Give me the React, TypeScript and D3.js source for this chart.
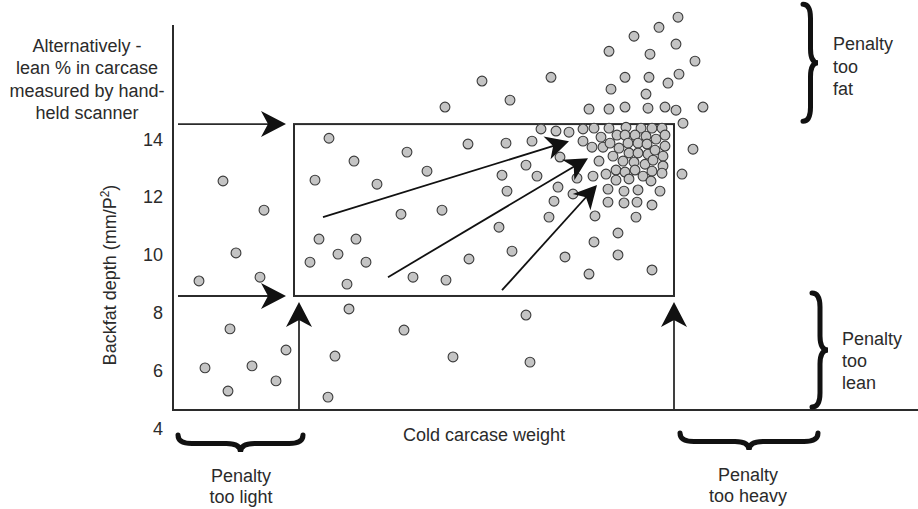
import React from 'react';
import * as d3 from 'd3';

const W = 918;
const H = 509;

// Cold carcase weight (arbitrary kg-like units) and backfat depth for each pig
const weights = [
  55.0, 59.1, 56.3, 52.6, 58.7, 55.7, 53.2, 57.9, 61.3, 60.3, 55.5,
  67.6, 85.3, 73.1, 66.2, 78.0, 85.7, 65.5,
  65.6, 68.1, 64.2, 70.4, 73.4, 75.4, 79.5, 83.3, 72.8, 76.9, 64.6, 68.3, 66.5, 63.7, 69.3, 67.4,
  74.0, 77.3, 79.6, 83.9, 82.6, 82.9, 83.4, 85.3, 86.4, 85.9, 86.8, 88.3, 89.6, 91.0, 92.1, 91.0,
  91.9, 88.7, 90.4, 92.0, 92.6, 88.5, 88.1, 90.0, 87.6, 92.2, 89.2, 92.1, 91.6, 93.5, 95.1, 96.4,
  97.9, 96.3, 94.5, 94.5, 97.9,
  93.6, 95.3, 96.8, 97.9, 98.9, 94.4, 95.2, 96.2, 97.3, 98.3, 99.2, 92.8, 93.0, 93.7, 95.5, 96.5,
  97.4, 94.6, 99.2, 95.6, 96.5, 97.5, 98.2, 99.0, 94.0, 95.0, 96.1, 97.2, 98.0, 99.0, 94.3, 95.2,
  96.2, 97.9, 98.9, 93.3, 94.3, 95.6, 97.0, 97.8, 93.5, 95.1, 96.5, 98.7,
  100.9, 102.0, 101.0, 103.0,
  100.5, 98.6, 96.1, 100.3, 93.6, 97.7, 102.2, 95.2, 97.6, 100.6, 99.5, 93.8, 97.3, 91.6, 93.6,
  95.2, 97.5, 99.2, 100.3, 80.9, 87.8, 83.7, 77.2,
];
const backfat = [
  12.55, 11.54, 10.06, 9.09, 9.22, 7.43, 6.08, 6.15, 6.70, 5.63, 5.28,
  8.12, 7.91, 7.39, 6.49, 6.46, 6.28, 5.07,
  14.03, 13.24, 12.58, 12.44, 13.55, 12.89, 13.83, 13.86, 11.40, 11.54, 10.54, 10.54, 10.02, 9.74, 9.74, 8.98,
  9.22, 9.12, 9.85, 10.12, 10.95, 12.75, 12.20, 13.10, 12.72, 13.93, 14.35, 14.28, 14.24, 14.35, 14.38, 13.93,
  13.72, 13.38, 12.65, 12.72, 13.24, 12.34, 11.85, 12.10, 11.30, 11.34, 9.92, 10.44, 9.33, 11.82, 11.79, 11.82,
  11.72, 11.30, 10.75, 9.99, 9.47,
  14.38, 14.41, 14.38, 14.38, 14.38, 14.14, 14.14, 14.14, 14.10, 14.00, 14.14, 14.07, 13.72, 13.86, 13.86, 13.86,
  13.83, 13.69, 13.76, 13.52, 13.52, 13.48, 13.62, 13.41, 13.41, 13.24, 13.20, 13.13, 13.27, 13.07, 12.93, 12.86,
  12.93, 12.89, 12.82, 12.79, 12.58, 12.62, 12.72, 12.55, 12.27, 12.20, 12.24, 12.20,
  12.79, 13.65, 14.55, 15.11,
  18.22, 17.87, 17.56, 17.29, 17.04, 16.94, 16.70, 16.14, 16.14, 16.25, 15.94, 15.73, 15.56, 15.04, 15.04,
  15.11, 15.07, 15.11, 15.00, 16.01, 16.14, 15.35, 15.11,
];

const yTicks = [4, 6, 8, 10, 12, 14];

// acceptable window (weight, backfat)
const boxWeights = [62.1, 100.1];
const boxBackfat = [8.57, 14.52];

// arrows pointing into the cluster
const diagStartW = [65.0, 71.5, 82.9];
const diagStartB = [11.3, 9.22, 8.77];
const diagTipW = [89.6, 91.5, 92.4];
const diagTipB = [13.93, 13.34, 12.41];

const xAxisAt = 4.62;
const yAxisTop = 17.95;

const leftNote = ['Alternatively -', 'lean % in carcase', 'measured by hand-', 'held scanner'];

const FONT = '"Liberation Sans", Arial, Helvetica, sans-serif';
const INK = '#2b2b2b';

const x = d3.scaleLinear().domain([50, 124.5]).range([173, 918]);
const y = d3.scaleLinear().domain([4, 17.95]).range([428, 25]);

function arrowHead(tx: number, ty: number, fx: number, fy: number, s = 1) {
  const ang = (Math.atan2(ty - fy, tx - fx) * 180) / Math.PI;
  return (
    <path
      d={`M0,0 L${-25 * s},${-13 * s} L${-18 * s},0 L${-25 * s},${13 * s} Z`}
      transform={`translate(${tx},${ty}) rotate(${ang})`}
      fill="#111"
    />
  );
}

// curly brace from A to B, bulging by d to the right-hand side of direction A->B (screen coords)
function bracePath(ax: number, ay: number, bx: number, by: number, d: number, r: number) {
  const L = Math.hypot(bx - ax, by - ay);
  const ux = (bx - ax) / L, uy = (by - ay) / L;
  const nx = uy, ny = -ux;
  const p = (s: number, t: number) => `${ax + ux * s + nx * t},${ay + uy * s + ny * t}`;
  const h = d * 0.5;
  return [
    `M${p(0, 0)}`,
    `Q${p(0, h)} ${p(r, h)}`,
    `L${p(L / 2 - r, h)}`,
    `Q${p(L / 2, h)} ${p(L / 2, d)}`,
    `Q${p(L / 2, h)} ${p(L / 2 + r, h)}`,
    `L${p(L - r, h)}`,
    `Q${p(L, h)} ${p(L, 0)}`,
  ].join(' ');
}

export default function App() {
  const pts = weights.map((w, i) => ({ w, b: backfat[i] }));
  const axisY = y(xAxisAt);
  const tipB = 8.36;
  return (
    <svg
      width={W}
      height={H}
      style={{ position: 'absolute', left: 0, top: 0, background: '#fff' }}
      fontFamily={FONT}
    >
      <rect x={0} y={0} width={W} height={H} fill="#fff" />
      {/* axes */}
      <line x1={x(50)} x2={x(50)} y1={y(yAxisTop)} y2={axisY} stroke={INK} strokeWidth={2} />
      <line x1={x(50) - 1} x2={W} y1={axisY} y2={axisY} stroke={INK} strokeWidth={2} />

      {/* tick labels */}
      {yTicks.map((t) => (
        <text key={t} x={163} y={y(t) + 6.5} textAnchor="end" fontSize={18} fill={INK}>
          {t}
        </text>
      ))}

      {/* y label */}
      <text
        transform={`translate(116,${275}) rotate(-90)`}
        textAnchor="middle"
        fontSize={18}
        fill={INK}
      >
        Backfat depth (mm/P
        <tspan dy={-7} fontSize={12}>2</tspan>
        <tspan dy={7}>)</tspan>
      </text>

      {/* left note */}
      {leftNote.map((s, i) => (
        <text key={s} x={87} y={52 + i * 22.4} textAnchor="middle" fontSize={18} fill={INK}>
          {s}
        </text>
      ))}

      {/* x label */}
      <text x={484} y={441} textAnchor="middle" fontSize={18} fill={INK}>
        Cold carcase weight
      </text>

      {/* window box */}
      <rect
        x={x(boxWeights[0])}
        y={y(boxBackfat[1])}
        width={x(boxWeights[1]) - x(boxWeights[0])}
        height={y(boxBackfat[0]) - y(boxBackfat[1])}
        fill="none"
        stroke={INK}
        strokeWidth={2}
      />

      {/* points */}
      {pts.map((p, i) => (
        <circle key={i} cx={x(p.w)} cy={y(p.b)} r={4.9} fill="#c4c4c4" stroke="#3a3a3a" strokeWidth={1.1} />
      ))}

      {/* horizontal arrows */}
      {boxBackfat.map((b) => (
        <g key={b}>
          <line x1={x(50.5)} x2={x(61.0)} y1={y(b)} y2={y(b)} stroke={INK} strokeWidth={1.8} />
          {arrowHead(x(61.3), y(b), x(50.5), y(b))}
        </g>
      ))}

      {/* vertical arrows */}
      {[62.6, 100.1].map((w) => (
        <g key={w}>
          <line x1={x(w)} x2={x(w)} y1={axisY} y2={y(tipB) + 5} stroke={INK} strokeWidth={1.8} />
          {arrowHead(x(w), y(tipB), x(w), axisY)}
        </g>
      ))}

      {/* diagonal arrows */}
      {diagStartW.map((w, i) => {
        const x1 = x(w), y1 = y(diagStartB[i]);
        const x2 = x(diagTipW[i]), y2 = y(diagTipB[i]);
        return (
          <g key={i}>
            <line x1={x1} y1={y1} x2={x2 - (x2 - x1) * 0.04} y2={y2 - (y2 - y1) * 0.04} stroke="#111" strokeWidth={1.8} />
            {arrowHead(x2, y2, x1, y1, 0.92)}
          </g>
        );
      })}

      {/* braces */}
      <path d={bracePath(x(113.0), y(18.67), x(113.0), y(14.62), 15, 14)} fill="none" stroke="#111" strokeWidth={5} strokeLinecap="round" />
      <path d={bracePath(x(113.9), y(8.67), x(113.9), y(4.73), 16, 14)} fill="none" stroke="#111" strokeWidth={5} strokeLinecap="round" />
      <path d={bracePath(x(63.0), y(3.76), x(50.5), y(3.76), 17, 14)} fill="none" stroke="#111" strokeWidth={5} strokeLinecap="round" />
      <path d={bracePath(x(114.5), y(3.83), x(100.7), y(3.83), 17, 14)} fill="none" stroke="#111" strokeWidth={5} strokeLinecap="round" />

      {/* brace labels */}
      {['Penalty', 'too', 'fat'].map((s, i) => (
        <text key={'f' + s} x={833} y={50 + i * 22.5} fontSize={18} fill={INK}>{s}</text>
      ))}
      {['Penalty', 'too', 'lean'].map((s, i) => (
        <text key={'l' + s} x={842} y={345 + i * 22} fontSize={18} fill={INK}>{s}</text>
      ))}
      {['Penalty', 'too light'].map((s, i) => (
        <text key={'t' + s} x={241} y={482 + i * 21} textAnchor="middle" fontSize={18} fill={INK}>{s}</text>
      ))}
      {['Penalty', 'too heavy'].map((s, i) => (
        <text key={'h' + s} x={748} y={481 + i * 21} textAnchor="middle" fontSize={18} fill={INK}>{s}</text>
      ))}
    </svg>
  );
}
